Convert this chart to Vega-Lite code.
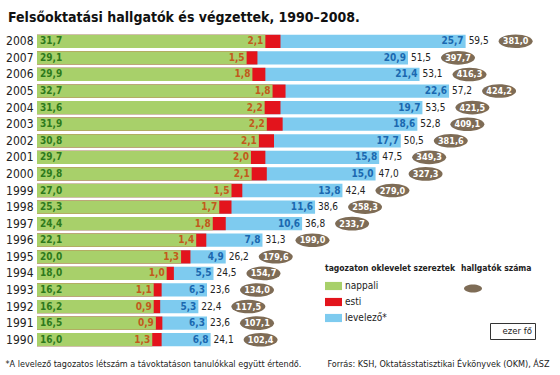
{
  "$schema": "https://vega.github.io/schema/vega-lite/v6.json",
  "width": 523,
  "height": 315,
  "autosize": {"type": "none"},
  "padding": {"left": 37, "top": 33, "right": 0, "bottom": 27},
  "background": "white",
  "config": {
    "font": "Liberation Sans Narrow, DejaVu Sans Condensed, sans-serif",
    "view": {"stroke": null},
    "locale": {"number": {"decimal": ",", "thousands": " ", "grouping": [3], "currency": ["", ""]}}
  },
  "title": {
    "text": "Felsőoktatási hallgatók és végzettek, 1990–2008.",
    "anchor": "start",
    "frame": "group",
    "dx": -29,
    "offset": -3,
    "baseline": "alphabetic",
    "fontSize": 14,
    "fontWeight": "bold",
    "color": "#111111"
  },
  "data": {
    "values": [
      {"year": 2008, "nappali": 31.7, "esti": 2.1, "levelezo": 25.7, "total": 59.5, "hallgatok": 381.0},
      {"year": 2007, "nappali": 29.1, "esti": 1.5, "levelezo": 20.9, "total": 51.5, "hallgatok": 397.7},
      {"year": 2006, "nappali": 29.9, "esti": 1.8, "levelezo": 21.4, "total": 53.1, "hallgatok": 416.3},
      {"year": 2005, "nappali": 32.7, "esti": 1.8, "levelezo": 22.6, "total": 57.2, "hallgatok": 424.2},
      {"year": 2004, "nappali": 31.6, "esti": 2.2, "levelezo": 19.7, "total": 53.5, "hallgatok": 421.5},
      {"year": 2003, "nappali": 31.9, "esti": 2.2, "levelezo": 18.6, "total": 52.8, "hallgatok": 409.1},
      {"year": 2002, "nappali": 30.8, "esti": 2.1, "levelezo": 17.7, "total": 50.5, "hallgatok": 381.6},
      {"year": 2001, "nappali": 29.7, "esti": 2.0, "levelezo": 15.8, "total": 47.5, "hallgatok": 349.3},
      {"year": 2000, "nappali": 29.8, "esti": 2.1, "levelezo": 15.0, "total": 47.0, "hallgatok": 327.3},
      {"year": 1999, "nappali": 27.0, "esti": 1.5, "levelezo": 13.8, "total": 42.4, "hallgatok": 279.0},
      {"year": 1998, "nappali": 25.3, "esti": 1.7, "levelezo": 11.6, "total": 38.6, "hallgatok": 258.3},
      {"year": 1997, "nappali": 24.4, "esti": 1.8, "levelezo": 10.6, "total": 36.8, "hallgatok": 233.7},
      {"year": 1996, "nappali": 22.1, "esti": 1.4, "levelezo": 7.8, "total": 31.3, "hallgatok": 199.0},
      {"year": 1995, "nappali": 20.0, "esti": 1.3, "levelezo": 4.9, "total": 26.2, "hallgatok": 179.6},
      {"year": 1994, "nappali": 18.0, "esti": 1.0, "levelezo": 5.5, "total": 24.5, "hallgatok": 154.7},
      {"year": 1993, "nappali": 16.2, "esti": 1.1, "levelezo": 6.3, "total": 23.6, "hallgatok": 134.0},
      {"year": 1992, "nappali": 16.2, "esti": 0.9, "levelezo": 5.3, "total": 22.4, "hallgatok": 117.5},
      {"year": 1991, "nappali": 16.5, "esti": 0.9, "levelezo": 6.3, "total": 23.6, "hallgatok": 107.1},
      {"year": 1990, "nappali": 16.0, "esti": 1.3, "levelezo": 6.8, "total": 24.1, "hallgatok": 102.4}
    ]
  },
  "encoding": {
    "y": {
      "field": "year",
      "type": "ordinal",
      "sort": "descending",
      "scale": {"paddingInner": 0.2, "paddingOuter": 0.1},
      "axis": {"title": null, "domain": false, "ticks": false, "labelFontSize": 12, "labelColor": "#222222", "labelPadding": 4}
    }
  },
  "resolve": {"axis": {"x": "independent"}},
  "layer": [
    {
      "mark": {"type": "bar"},
      "encoding": {
        "x": {
          "field": "total",
          "type": "quantitative",
          "scale": {"domain": [0, 72.6], "nice": false, "zero": true},
          "axis": {
            "orient": "bottom",
            "labels": false, "ticks": false, "domain": false, "grid": false,
            "title": "*A levelező tagozatos létszám a távoktatáson tanulókkal együtt értendő.",
            "titleX": -32, "titleY": 18, "titleAnchor": null, "titleAlign": "left", "titleBaseline": "alphabetic",
            "titleFontSize": 9, "titleFontWeight": "normal", "titleColor": "#222222", "titleLimit": 400
          }
        },
        "color": {
          "datum": "levelezo",
          "type": "nominal",
          "scale": {"domain": ["nappali", "esti", "levelezo"], "range": ["#a8d06a", "#e3141c", "#7ecbef"]},
          "legend": {
            "title": "tagozaton oklevelet szereztek",
            "orient": "none", "legendX": 288, "legendY": 231,
            "titleFontSize": 8.5, "titleFontWeight": "bold", "titleColor": "#222222", "titlePadding": 5,
            "labelFontSize": 10, "labelColor": "#222222", "labelOffset": 3,
            "labelExpr": "datum.label == 'levelezo' ? 'levelező*' : datum.label",
            "symbolType": "M -1 -0.48 H 1 V 0.48 H -1 Z", "symbolSize": 289, "symbolStrokeWidth": 0,
            "rowPadding": 2, "offset": 0
          }
        }
      }
    },
    {
      "transform": [{"fold": ["nappali", "esti"], "as": ["kat", "val"]}],
      "mark": {"type": "bar"},
      "encoding": {
        "x": {"aggregate": "sum", "field": "val", "type": "quantitative", "axis": null},
        "color": {"datum": "esti", "type": "nominal"}
      }
    },
    {
      "mark": {"type": "bar"},
      "encoding": {
        "x": {"field": "nappali", "type": "quantitative", "axis": null},
        "color": {"datum": "nappali", "type": "nominal"}
      }
    },
    {
      "mark": {"type": "text", "align": "left", "dx": 3, "fontSize": 10, "fontWeight": "bold", "color": "#2e7a1c"},
      "encoding": {
        "x": {"datum": 0, "type": "quantitative", "axis": null},
        "text": {"field": "nappali", "type": "quantitative", "format": ".1f"}
      }
    },
    {
      "mark": {"type": "text", "align": "right", "dx": -2, "fontSize": 10, "fontWeight": "bold", "color": "#c25a1c"},
      "encoding": {
        "x": {"field": "nappali", "type": "quantitative", "axis": null},
        "text": {"field": "esti", "type": "quantitative", "format": ".1f"}
      }
    },
    {
      "mark": {"type": "text", "align": "right", "dx": -2, "fontSize": 10, "fontWeight": "bold", "color": "#1a68b0"},
      "encoding": {
        "x": {"field": "total", "type": "quantitative", "axis": null},
        "text": {"field": "levelezo", "type": "quantitative", "format": ".1f"}
      }
    },
    {
      "mark": {"type": "text", "align": "left", "dx": 3, "fontSize": 10, "color": "#222222"},
      "encoding": {
        "x": {
          "field": "total",
          "type": "quantitative",
          "axis": {
            "orient": "top",
            "labels": false, "ticks": false, "domain": false, "grid": false,
            "title": "Forrás: KSH, Oktatásstatisztikai Évkönyvek (OKM), ÁSZ",
            "titleX": 290, "titleY": 333, "titleAnchor": null, "titleAlign": "left", "titleBaseline": "alphabetic",
            "titleFontSize": 9, "titleFontWeight": "normal", "titleColor": "#222222", "titleLimit": 400
          }
        },
        "text": {"field": "total", "type": "quantitative", "format": ".1f"}
      }
    },
    {
      "mark": {"type": "point", "filled": true, "xOffset": 50, "size": 1156, "opacity": 1, "strokeWidth": 0},
      "encoding": {
        "x": {"field": "total", "type": "quantitative", "axis": null},
        "fill": {
          "datum": "hallgatók száma",
          "type": "nominal",
          "scale": {"range": ["#7e6c56"]},
          "legend": {
            "title": "hallgatók száma",
            "orient": "none", "legendX": 424, "legendY": 231,
            "titleFontSize": 8.5, "titleFontWeight": "bold", "titleColor": "#222222", "titlePadding": 7,
            "labelExpr": "''",
            "symbolType": "M -1 0 A 1 0.45 0 1 1 1 0 A 1 0.45 0 1 1 -1 0 Z",
            "symbolSize": 324, "symbolFillColor": "#7e6c56", "symbolStrokeWidth": 0, "symbolOpacity": 1,
            "symbolOffset": 3
          }
        },
        "shape": {
          "datum": "ezer fő",
          "type": "nominal",
          "scale": {"range": ["M -1 0 A 1 0.4 0 1 1 1 0 A 1 0.4 0 1 1 -1 0 Z"]},
          "legend": {
            "title": null,
            "orient": "none", "legendX": 453, "legendY": 290,
            "labelFontSize": 9.5, "labelColor": "#222222", "labelOffset": 0,
            "symbolSize": 0, "symbolOpacity": 0, "symbolStrokeWidth": 0,
            "strokeColor": "#333333", "padding": 3
          }
        }
      }
    },
    {
      "mark": {"type": "text", "align": "center", "dx": 50, "fontSize": 9, "fontWeight": "bold", "color": "white"},
      "encoding": {
        "x": {"field": "total", "type": "quantitative", "axis": null},
        "text": {"field": "hallgatok", "type": "quantitative", "format": ".1f"}
      }
    }
  ]
}
